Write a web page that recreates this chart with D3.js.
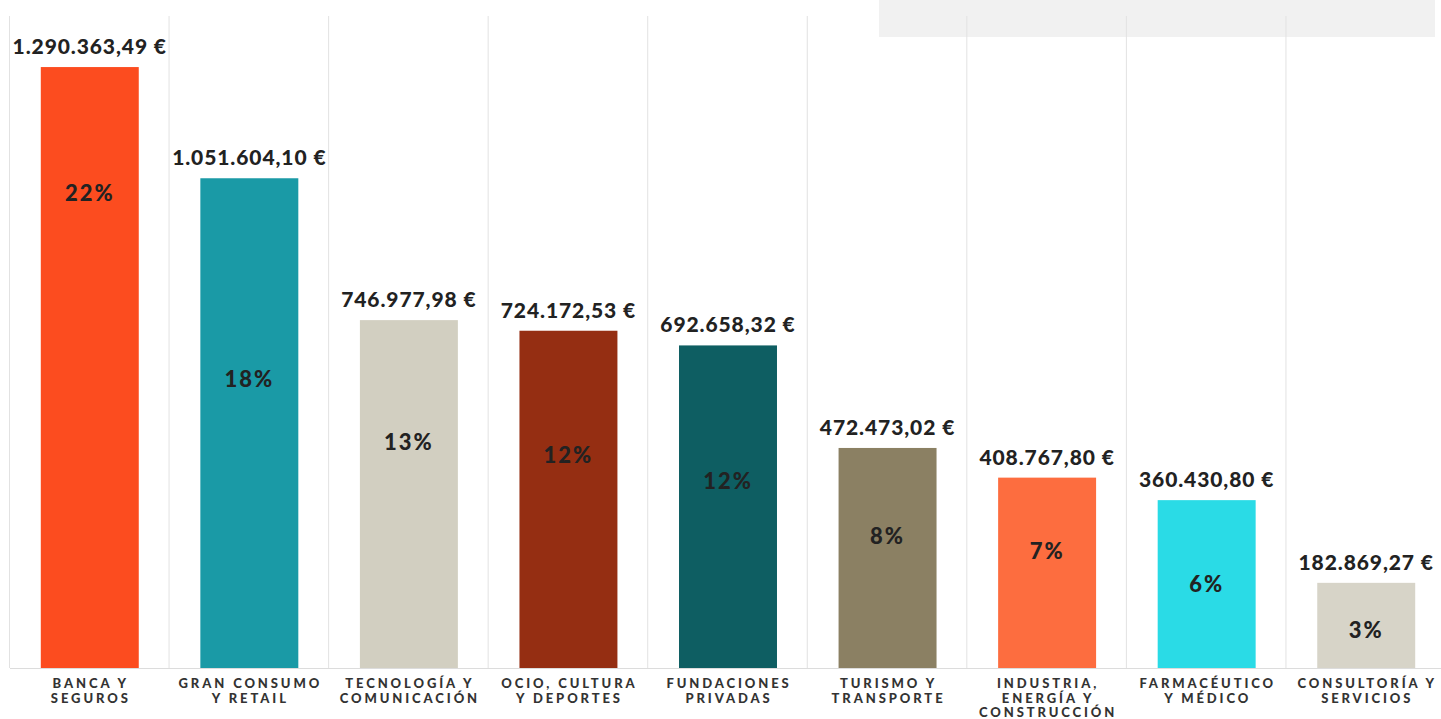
<!DOCTYPE html>
<html>
<head>
<meta charset="utf-8">
<script src="https://cdn.jsdelivr.net/npm/d3@7"></script>
<style>
  body { margin: 0; background: #fff; }
  text { font-family: Lato, "Open Sans", sans-serif; }
</style>
</head>
<body>
<div id="chart"></div>
<script>
// data
var categories = ["BANCA Y|SEGUROS", "GRAN CONSUMO|Y RETAIL", "TECNOLOGÍA Y|COMUNICACIÓN",
  "OCIO, CULTURA|Y DEPORTES", "FUNDACIONES|PRIVADAS", "TURISMO Y|TRANSPORTE",
  "INDUSTRIA,|ENERGÍA Y|CONSTRUCCIÓN", "FARMACÉUTICO|Y MÉDICO", "CONSULTORÍA Y|SERVICIOS"];
var amounts = [1290363.49, 1051604.10, 746977.98, 724172.53, 692658.32, 472473.02, 408767.80, 360430.80, 182869.27];
var shares = [22, 18, 13, 12, 12, 8, 7, 6, 3];
var barColors = ["#fc4c1f", "#1a9aa6", "#d2cfc1", "#952e12", "#0e5e62", "#8b8063", "#fd6d3f", "#2adbe6", "#d7d4c8"];
// where the % label sits, as a share of bar height (layout only)
var pctLabelPos = [0.79, 0.59, 0.65, 0.63, 0.58, 0.6, 0.615, 0.5, 0.44];

var W = 1441, H = 719;
var margin = {top: 16, left: 10, right: -5, bottom: 51};
var innerW = W - margin.left - margin.right,
    innerH = H - margin.top - margin.bottom;

var svg = d3.select("#chart").append("svg")
  .attr("width", W).attr("height", H);

// grey strip top right
svg.append("rect")
  .attr("x", 879).attr("y", 0).attr("width", 556).attr("height", 37)
  .attr("fill", "#f1f1f1");

var g = svg.append("g")
  .attr("transform", "translate(" + margin.left + "," + margin.top + ")");

var x = d3.scaleBand()
  .domain(categories)
  .range([0, innerW])
  .paddingInner(0.386)
  .paddingOuter(0.193);

var y = d3.scaleLinear()
  .domain([0, 1400000])
  .range([innerH, 0]);

// vertical separators
g.selectAll(".sep")
  .data(categories)
  .enter().append("line")
    .attr("x1", function(d) { return x(d) - x.bandwidth() * 0.193 / 0.614 - 0.5; })
    .attr("x2", function(d) { return x(d) - x.bandwidth() * 0.193 / 0.614 - 0.5; })
    .attr("y1", 0).attr("y2", innerH)
    .attr("stroke", "#e2e2e2").attr("stroke-width", 1);

// baseline
g.append("line")
  .attr("x1", 0).attr("x2", innerW)
  .attr("y1", innerH + 0.5).attr("y2", innerH + 0.5)
  .attr("stroke", "#dcdcdc");

// bars
g.selectAll(".bar")
  .data(amounts)
  .enter().append("rect")
    .attr("x", function(d, i) { return x(categories[i]); })
    .attr("y", function(d) { return y(d); })
    .attr("width", x.bandwidth())
    .attr("height", function(d) { return innerH - y(d); })
    .attr("fill", function(d, i) { return barColors[i]; });

var fmt = d3.formatLocale({decimal: ",", thousands: ".", grouping: [3], currency: ["", " €"]}).format("$,.2f");

// value labels
g.selectAll(".val")
  .data(amounts)
  .enter().append("text")
    .attr("x", function(d, i) { return x(categories[i]) + x.bandwidth() / 2; })
    .attr("y", function(d) { return y(d) - 13; })
    .attr("text-anchor", "middle")
    .attr("font-size", 21)
    .attr("font-weight", 900)
    .attr("letter-spacing", 0.9)
    .attr("fill", "#222")
    .text(function(d) { return fmt(d); });

// share labels
g.selectAll(".pct")
  .data(shares)
  .enter().append("text")
    .attr("x", function(d, i) { return x(categories[i]) + x.bandwidth() / 2; })
    .attr("y", function(d, i) { return y(amounts[i] * pctLabelPos[i]); })
    .attr("dy", "0.35em")
    .attr("text-anchor", "middle")
    .attr("font-size", 22)
    .attr("font-weight", 900)
    .attr("letter-spacing", 2)
    .attr("fill", "#222")
    .text(function(d) { return d + "%"; });

// x axis
var xAxis = g.append("g")
  .attr("transform", "translate(0," + innerH + ")")
  .call(d3.axisBottom(x).tickSize(0).tickFormat(""));
xAxis.select(".domain").remove();

xAxis.selectAll(".tick").each(function(d) {
  var t = d3.select(this).append("text")
    .attr("text-anchor", "middle")
    .attr("font-size", 13)
    .attr("font-weight", 900)
    .attr("letter-spacing", 2.9)
    .attr("fill", "#333");
  d.split("|").forEach(function(line, i) {
    t.append("tspan").attr("x", 1).attr("y", 20 + i * 14.5).text(line);
  });
});
</script>
</body>
</html>
